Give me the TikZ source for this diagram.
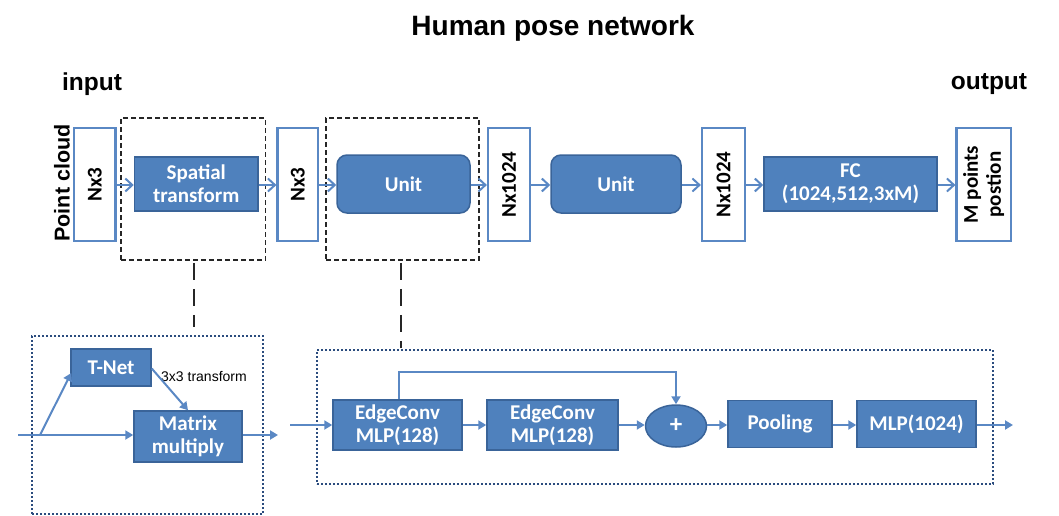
\documentclass[tikz,border=0pt]{standalone}
\usepackage{fontspec}
\setmainfont{Liberation Sans}
\newfontfamily\carl{Carlito}
\usetikzlibrary{arrows.meta,calc,shapes.geometric}
\definecolor{bfill}{HTML}{4F81BD}
\definecolor{bdraw}{HTML}{3A6499}
\definecolor{aline}{HTML}{5A88C4}
\definecolor{dotc}{HTML}{2B4C7E}
\begin{document}
\begin{tikzpicture}[x=1pt,y=-1pt,
 bluebox/.style={draw=bdraw, fill=bfill, line width=1.5pt, text=white, font=\carl\bfseries\fontsize{21}{23}\selectfont, align=center, inner sep=0pt},
 tallbox/.style={draw=aline, fill=white, line width=2.2pt, minimum height=113pt, inner sep=0pt},
 vlab/.style={rotate=90, font=\carl\bfseries\fontsize{21}{23}\selectfont, align=center, text=black, inner sep=0pt},
 topar/.style={draw=aline, line width=2pt, -{Straight Barb[length=7pt,width=13pt,line width=2pt]}},
 botar/.style={draw=aline, line width=2pt, -{Triangle[length=8pt,width=9pt]}},
 dashbox/.style={draw=black!85, line width=1.5pt, dash pattern=on 5pt off 3pt, inner sep=0pt},
 dotbox/.style={draw=dotc, line width=2pt, dash pattern=on 2pt off 2pt, inner sep=0pt},
 dconn/.style={draw=black!85, line width=2pt, dash pattern=on 17pt off 9pt},
 hdr/.style={font=\bfseries\fontsize{24.5}{28}\selectfont, inner sep=0pt},
]
\useasboundingbox (0,0) rectangle (1059,516);

% titles
\node[font=\bfseries\fontsize{28}{32}\selectfont, inner sep=0pt] (title) at (553,28) {Human pose network};
\node[hdr] (inp) at (92,84) {input};
\node[hdr] (outp) at (989,84) {output};
\node[rotate=90, font=\bfseries\fontsize{21.5}{24}\selectfont, inner sep=0pt] (pc) at (62,183) {Point cloud};

% dashed groups
\node[dashbox, minimum width=144.5pt, minimum height=142pt] (stgrp) at (193.25,189) {};
\node[dashbox, minimum width=153pt, minimum height=142pt] (ungrp) at (402.5,189) {};

% top row
\node[tallbox, minimum width=41.5pt, label={[vlab]center:Nx3}] (nxa) at (94.75,184.5) {};
\node[bluebox, minimum width=123.5pt, minimum height=54pt] (spat) at (196.25,184) {Spatial\\transform};
\node[tallbox, minimum width=40.5pt, label={[vlab]center:Nx3}] (nxb) at (297.75,184.5) {};
\node[bluebox, rounded corners=10pt, minimum width=133pt, minimum height=58pt] (unita) at (403.5,184) {Unit};
\node[tallbox, minimum width=42pt, label={[vlab]center:Nx1024}] (nxc) at (509,184.5) {};
\node[bluebox, rounded corners=10pt, minimum width=130pt, minimum height=58pt] (unitb) at (616,184) {Unit};
\node[tallbox, minimum width=43pt, label={[vlab]center:Nx1024}] (nxd) at (723.5,184.5) {};
\node[bluebox, minimum width=173pt, minimum height=54pt] (fc) at (850.5,184) {FC\\(1024,512,3xM)};
\node[tallbox, minimum width=54.5pt, label={[vlab]center:M points\\postion}] (mout) at (983.75,184.5) {};

\draw[topar] (nxa.east |- 0,185) -- (spat.west |- 0,185);
\draw[topar] (spat.east |- 0,185) -- (nxb.west |- 0,185);
\draw[topar] (nxb.east |- 0,185) -- (unita.west |- 0,185);
\draw[topar] (unita.east |- 0,185) -- (nxc.west |- 0,185);
\draw[topar] (nxc.east |- 0,185) -- (unitb.west |- 0,185);
\draw[topar] (unitb.east |- 0,185) -- (nxd.west |- 0,185);
\draw[topar] (nxd.east |- 0,185) -- (fc.west |- 0,185);
\draw[topar] (fc.east |- 0,185) -- (mout.west |- 0,185);

% detail boxes
\node[dotbox, minimum width=231pt, minimum height=178pt] (stdet) at (147.5,425) {};
\node[dotbox, minimum width=676pt, minimum height=134pt] (undet) at (655,417) {};

\coordinate (c1) at (194,327);
\coordinate (c2) at (401,348);
\draw[dconn] (stgrp.south) ++(0.75,2) -- (c1);
\draw[dconn] (ungrp.south) ++(-1.5,2) -- (c2);

% spatial transform detail
\node[bluebox, minimum width=80pt, minimum height=37pt] (tnet) at (111,367.5) {T-Net};
\node[bluebox, minimum width=108pt, minimum height=51pt] (mat) at (188,436.5) {Matrix\\multiply};
\node[anchor=west, font=\fontsize{14}{16}\selectfont, inner sep=0pt] (ttxt) at (161,376) {3x3 transform};
\coordinate (sin) at (18,435);
\coordinate (sbr) at (40,435);
\coordinate (sout) at (278,435);
\draw[botar] (sin) -- (mat.west |- sin);
\draw[botar] (sbr) -- ($(tnet.west)+(1,5.5)$);
\draw[botar] ($(tnet.east)+(0,1)$) -- (mat.north);
\draw[botar] (mat.east |- sout) -- (sout);

% unit detail
\node[bluebox, minimum width=129pt, minimum height=50pt] (ec1) at (397.5,425) {EdgeConv\\MLP(128)};
\node[bluebox, minimum width=131pt, minimum height=50pt] (ec2) at (552.5,425) {EdgeConv\\MLP(128)};
\node[bluebox, ellipse, minimum width=61pt, minimum height=42pt, font=\carl\bfseries\fontsize{25}{27}\selectfont] (plus) at (676,426) {+};
\node[bluebox, minimum width=104pt, minimum height=47pt] (pool) at (780,424) {Pooling};
\node[bluebox, minimum width=119pt, minimum height=47pt] (mlp) at (916.5,424) {MLP(1024)};
\coordinate (uin) at (290,425);
\coordinate (uout) at (1013,425);
\draw[botar] (uin) -- (ec1.west |- uin);
\draw[botar] (ec1.east |- uin) -- (ec2.west |- uin);
\draw[botar] (ec2.east |- uin) -- (plus.west |- uin);
\draw[botar] (plus.east |- uin) -- (pool.west |- uin);
\draw[botar] (pool.east |- uin) -- (mlp.west |- uin);
\draw[botar] (mlp.east |- uin) -- (uout);
\draw[botar] (ec1.north -| 399,0) -- (399,372) -- (676,372) -- (plus.north);
\end{tikzpicture}
\end{document}
